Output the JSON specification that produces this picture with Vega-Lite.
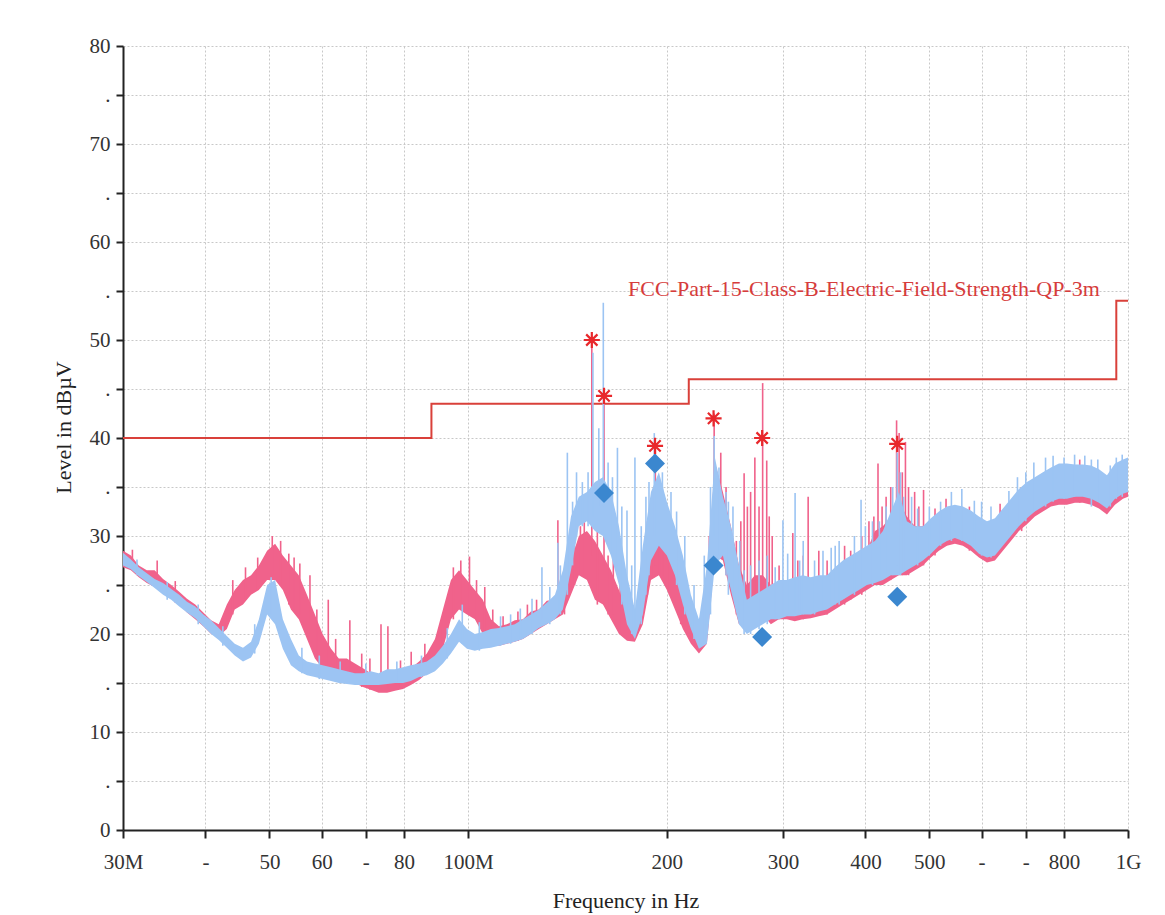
{
  "$schema": "https://vega.github.io/schema/vega-lite/v6.json",
  "autosize": {"type": "none"},
  "padding": {"left": 123, "top": 46, "right": 37, "bottom": 85},
  "width": 1005,
  "height": 784,
  "background": "white",
  "config": {
    "font": "Liberation Serif",
    "view": {"stroke": null},
    "axis": {
      "grid": true,
      "gridColor": "#c8c8c8",
      "gridDash": [2, 2],
      "gridWidth": 1,
      "domainColor": "#222222",
      "domainWidth": 2,
      "tickColor": "#222222",
      "tickWidth": 2,
      "labelFont": "Liberation Serif",
      "labelFontSize": 21,
      "labelColor": "#333333",
      "titleFont": "Liberation Serif",
      "titleFontSize": 22,
      "titleFontWeight": "normal",
      "titleColor": "#222222",
      "labelOverlap": false,
      "labelFlush": false
    }
  },
  "datasets": {
    "limit": [
      {"f": 30, "y": 40},
      {"f": 88, "y": 43.5},
      {"f": 216, "y": 46},
      {"f": 960, "y": 54},
      {"f": 1000, "y": 54}
    ],
    "limitLabel": [
      {"f": 398, "y": 55.2, "t": "FCC-Part-15-Class-B-Electric-Field-Strength-QP-3m"}
    ],
    "trace": [
      {"f": 30.0, "rl": 26.8, "rh": 28.5, "bl": 27.0, "bh": 28.3},
      {"f": 30.84, "rl": 26.5, "rh": 28.0, "bl": 26.6, "bh": 27.6},
      {"f": 31.7, "rl": 25.8, "rh": 27.0, "bl": 25.9, "bh": 26.8},
      {"f": 32.6, "rl": 25.2, "rh": 26.5, "bl": 25.3, "bh": 26.2},
      {"f": 33.5, "rl": 24.8, "rh": 26.5, "bl": 24.7, "bh": 25.6},
      {"f": 34.5, "rl": 24.2, "rh": 25.6, "bl": 24.0, "bh": 25.2},
      {"f": 35.5, "rl": 23.6, "rh": 25.0, "bl": 23.5, "bh": 24.6},
      {"f": 36.5, "rl": 23.0, "rh": 24.3, "bl": 22.8, "bh": 24.0},
      {"f": 37.5, "rl": 22.2, "rh": 23.6, "bl": 22.2, "bh": 23.3},
      {"f": 38.6, "rl": 21.5, "rh": 23.0, "bl": 21.6, "bh": 22.8},
      {"f": 39.7, "rl": 20.8, "rh": 22.2, "bl": 20.8, "bh": 22.0},
      {"f": 40.8, "rl": 20.0, "rh": 21.4, "bl": 20.0, "bh": 21.4},
      {"f": 41.9, "rl": 19.8, "rh": 21.0, "bl": 19.4, "bh": 20.6},
      {"f": 43.1, "rl": 20.5, "rh": 23.0, "bl": 18.6, "bh": 19.8},
      {"f": 44.3, "rl": 22.5, "rh": 24.5, "bl": 17.8, "bh": 19.0},
      {"f": 45.6, "rl": 23.0, "rh": 25.5, "bl": 17.2, "bh": 18.6},
      {"f": 46.9, "rl": 24.0, "rh": 26.0, "bl": 17.6, "bh": 19.2},
      {"f": 48.2, "rl": 24.5, "rh": 27.0, "bl": 19.0, "bh": 21.5},
      {"f": 49.6, "rl": 25.5, "rh": 28.5, "bl": 22.0, "bh": 25.0},
      {"f": 51.0, "rl": 25.5, "rh": 29.2, "bl": 21.0, "bh": 25.5},
      {"f": 52.4, "rl": 24.5, "rh": 28.0, "bl": 18.5, "bh": 21.5},
      {"f": 53.9, "rl": 22.5, "rh": 27.0, "bl": 16.8, "bh": 19.5},
      {"f": 55.4, "rl": 21.5, "rh": 26.0, "bl": 16.2, "bh": 17.8},
      {"f": 57.0, "rl": 19.5, "rh": 24.0, "bl": 15.8, "bh": 17.2},
      {"f": 58.6, "rl": 17.5, "rh": 22.0, "bl": 15.6, "bh": 17.0},
      {"f": 60.2, "rl": 16.5, "rh": 20.0, "bl": 15.4, "bh": 16.8},
      {"f": 62.0, "rl": 16.0, "rh": 18.5, "bl": 15.2, "bh": 16.6},
      {"f": 63.7, "rl": 15.6, "rh": 17.5, "bl": 15.0, "bh": 16.4},
      {"f": 65.5, "rl": 15.3, "rh": 17.5, "bl": 14.9, "bh": 16.2},
      {"f": 67.4, "rl": 15.0, "rh": 17.0, "bl": 14.8, "bh": 16.0},
      {"f": 69.3, "rl": 14.6, "rh": 16.5, "bl": 14.8, "bh": 16.0},
      {"f": 71.2, "rl": 14.3, "rh": 16.0, "bl": 14.8, "bh": 16.2},
      {"f": 73.2, "rl": 14.0, "rh": 15.8, "bl": 14.8, "bh": 16.0},
      {"f": 75.4, "rl": 14.0, "rh": 15.8, "bl": 14.9, "bh": 16.4},
      {"f": 77.5, "rl": 14.2, "rh": 16.0, "bl": 15.0, "bh": 16.4},
      {"f": 79.7, "rl": 14.4, "rh": 16.2, "bl": 15.0, "bh": 16.6},
      {"f": 81.9, "rl": 14.8, "rh": 16.5, "bl": 15.2, "bh": 16.8},
      {"f": 84.3, "rl": 15.3, "rh": 17.2, "bl": 15.6, "bh": 17.0},
      {"f": 86.6, "rl": 16.0, "rh": 18.0, "bl": 15.8, "bh": 17.2},
      {"f": 89.1, "rl": 16.8, "rh": 19.5, "bl": 16.2, "bh": 17.8},
      {"f": 91.6, "rl": 18.5, "rh": 22.5, "bl": 17.0, "bh": 18.8},
      {"f": 94.2, "rl": 21.5, "rh": 25.5, "bl": 18.0, "bh": 20.0},
      {"f": 96.9, "rl": 22.5, "rh": 26.5, "bl": 19.2, "bh": 21.5},
      {"f": 99.6, "rl": 22.0, "rh": 25.5, "bl": 18.5, "bh": 20.5},
      {"f": 102.4, "rl": 21.5, "rh": 24.5, "bl": 18.3, "bh": 20.0},
      {"f": 105.3, "rl": 20.0, "rh": 23.5, "bl": 18.5, "bh": 20.2},
      {"f": 108.3, "rl": 19.0, "rh": 21.5, "bl": 18.6, "bh": 20.5},
      {"f": 111.4, "rl": 18.8, "rh": 20.8, "bl": 18.8, "bh": 20.6},
      {"f": 114.5, "rl": 19.0, "rh": 21.0, "bl": 19.0, "bh": 20.8},
      {"f": 117.7, "rl": 19.2, "rh": 21.4, "bl": 19.2, "bh": 21.0},
      {"f": 121.1, "rl": 19.5, "rh": 21.5, "bl": 19.5, "bh": 21.5},
      {"f": 124.5, "rl": 20.0, "rh": 22.3, "bl": 20.0, "bh": 22.0},
      {"f": 128.0, "rl": 20.5, "rh": 22.5, "bl": 20.6, "bh": 22.5},
      {"f": 131.6, "rl": 21.0, "rh": 23.4, "bl": 21.0, "bh": 23.2},
      {"f": 135.4, "rl": 21.5, "rh": 23.5, "bl": 21.5, "bh": 24.0},
      {"f": 139.2, "rl": 22.0, "rh": 24.5, "bl": 22.5, "bh": 26.5},
      {"f": 143.2, "rl": 24.0, "rh": 27.5, "bl": 26.5, "bh": 32.0},
      {"f": 147.2, "rl": 26.0, "rh": 30.0, "bl": 31.0, "bh": 34.0},
      {"f": 151.4, "rl": 25.5, "rh": 30.5, "bl": 31.5, "bh": 34.5},
      {"f": 155.7, "rl": 23.5, "rh": 29.5, "bl": 30.5, "bh": 35.5},
      {"f": 160.1, "rl": 23.0, "rh": 28.0, "bl": 30.0, "bh": 36.0},
      {"f": 164.6, "rl": 21.5, "rh": 26.5, "bl": 28.0, "bh": 34.5},
      {"f": 169.3, "rl": 20.0, "rh": 24.5, "bl": 25.0, "bh": 31.0},
      {"f": 174.1, "rl": 19.3, "rh": 22.0, "bl": 21.0, "bh": 26.0},
      {"f": 179.0, "rl": 19.2, "rh": 21.5, "bl": 19.5, "bh": 22.5},
      {"f": 184.0, "rl": 21.0, "rh": 27.5, "bl": 22.0, "bh": 29.0},
      {"f": 189.3, "rl": 25.5, "rh": 32.0, "bl": 27.5, "bh": 34.5},
      {"f": 194.6, "rl": 26.0, "rh": 32.5, "bl": 29.0, "bh": 36.5},
      {"f": 200.1, "rl": 24.5, "rh": 30.0, "bl": 28.0, "bh": 33.5},
      {"f": 205.8, "rl": 22.5, "rh": 27.0, "bl": 26.0, "bh": 31.0},
      {"f": 211.6, "rl": 20.5, "rh": 24.5, "bl": 23.0, "bh": 28.0},
      {"f": 217.6, "rl": 19.0, "rh": 22.0, "bl": 20.5, "bh": 24.0},
      {"f": 223.8, "rl": 18.0, "rh": 20.5, "bl": 18.5, "bh": 21.5},
      {"f": 230.1, "rl": 19.0, "rh": 25.0, "bl": 19.0, "bh": 27.0},
      {"f": 236.6, "rl": 28.0, "rh": 37.5, "bl": 27.0, "bh": 38.0},
      {"f": 243.3, "rl": 27.5, "rh": 34.5, "bl": 28.0, "bh": 34.0},
      {"f": 250.2, "rl": 24.0, "rh": 31.0, "bl": 24.5, "bh": 31.0},
      {"f": 257.3, "rl": 21.0, "rh": 27.0, "bl": 21.0, "bh": 27.0},
      {"f": 264.5, "rl": 21.0, "rh": 25.0, "bl": 20.0, "bh": 23.5},
      {"f": 272.0, "rl": 21.5, "rh": 26.0, "bl": 20.5, "bh": 24.0},
      {"f": 279.7, "rl": 22.0, "rh": 26.0, "bl": 21.0, "bh": 24.5},
      {"f": 287.6, "rl": 21.0, "rh": 25.0, "bl": 21.5, "bh": 25.0},
      {"f": 295.7, "rl": 21.5, "rh": 25.0, "bl": 21.5, "bh": 25.5},
      {"f": 304.1, "rl": 21.5, "rh": 25.5, "bl": 21.8, "bh": 25.5},
      {"f": 312.7, "rl": 21.3, "rh": 25.0, "bl": 21.8, "bh": 25.8},
      {"f": 321.5, "rl": 21.5, "rh": 26.0, "bl": 22.0, "bh": 26.0},
      {"f": 330.6, "rl": 21.6, "rh": 25.5, "bl": 22.0, "bh": 25.8},
      {"f": 340.0, "rl": 21.8, "rh": 25.5, "bl": 22.3, "bh": 26.0},
      {"f": 349.8, "rl": 22.0, "rh": 25.8, "bl": 22.5, "bh": 26.0},
      {"f": 359.7, "rl": 22.5, "rh": 26.5, "bl": 23.0, "bh": 26.8},
      {"f": 369.8, "rl": 23.0, "rh": 27.0, "bl": 23.5, "bh": 27.5},
      {"f": 380.3, "rl": 23.5, "rh": 27.5, "bl": 24.0, "bh": 28.0},
      {"f": 391.1, "rl": 24.0, "rh": 28.5, "bl": 24.5, "bh": 28.5},
      {"f": 402.1, "rl": 24.5, "rh": 28.5, "bl": 25.0, "bh": 29.0},
      {"f": 413.5, "rl": 25.0, "rh": 30.5, "bl": 25.2, "bh": 29.5},
      {"f": 425.2, "rl": 25.0, "rh": 31.0, "bl": 25.5, "bh": 30.5},
      {"f": 437.2, "rl": 25.5, "rh": 32.0, "bl": 26.0, "bh": 32.5},
      {"f": 449.6, "rl": 26.0, "rh": 33.5, "bl": 26.0, "bh": 34.5},
      {"f": 462.3, "rl": 26.0, "rh": 32.0, "bl": 26.5, "bh": 31.5},
      {"f": 475.5, "rl": 26.5, "rh": 31.0, "bl": 27.0, "bh": 31.0},
      {"f": 488.9, "rl": 27.0, "rh": 31.0, "bl": 27.5, "bh": 31.0},
      {"f": 502.7, "rl": 27.8, "rh": 31.5, "bl": 28.2, "bh": 31.8},
      {"f": 517.0, "rl": 28.5, "rh": 32.0, "bl": 29.0, "bh": 32.5},
      {"f": 531.6, "rl": 29.0, "rh": 32.5, "bl": 29.5, "bh": 33.0},
      {"f": 546.6, "rl": 29.2, "rh": 32.8, "bl": 29.8, "bh": 33.2},
      {"f": 562.1, "rl": 29.0, "rh": 32.8, "bl": 29.5, "bh": 33.0},
      {"f": 578.0, "rl": 28.5, "rh": 32.5, "bl": 29.0, "bh": 32.6},
      {"f": 594.5, "rl": 27.8, "rh": 31.8, "bl": 28.2, "bh": 32.0},
      {"f": 611.3, "rl": 27.3, "rh": 31.3, "bl": 27.8, "bh": 31.5},
      {"f": 628.6, "rl": 27.5, "rh": 31.5, "bl": 28.0, "bh": 31.8},
      {"f": 646.3, "rl": 28.5, "rh": 32.5, "bl": 29.0, "bh": 32.8},
      {"f": 664.6, "rl": 29.5, "rh": 33.5, "bl": 30.0, "bh": 33.8},
      {"f": 683.4, "rl": 30.5, "rh": 34.5, "bl": 31.0, "bh": 34.8},
      {"f": 702.8, "rl": 31.2, "rh": 35.0, "bl": 31.8, "bh": 35.5},
      {"f": 722.6, "rl": 32.0, "rh": 35.8, "bl": 32.5, "bh": 36.0},
      {"f": 743.1, "rl": 32.5, "rh": 36.2, "bl": 33.0, "bh": 36.5},
      {"f": 764.3, "rl": 33.0, "rh": 36.8, "bl": 33.5, "bh": 37.0},
      {"f": 785.9, "rl": 33.2, "rh": 37.0, "bl": 33.8, "bh": 37.4},
      {"f": 808.1, "rl": 33.2, "rh": 37.0, "bl": 33.8, "bh": 37.4},
      {"f": 831.0, "rl": 33.4, "rh": 37.0, "bl": 34.0, "bh": 37.3},
      {"f": 854.5, "rl": 33.4, "rh": 37.0, "bl": 34.0, "bh": 37.3},
      {"f": 878.9, "rl": 33.2, "rh": 37.0, "bl": 33.8, "bh": 37.2},
      {"f": 903.7, "rl": 32.8, "rh": 36.5, "bl": 33.4, "bh": 36.8},
      {"f": 929.3, "rl": 32.2, "rh": 35.8, "bl": 32.8, "bh": 36.2},
      {"f": 955.6, "rl": 33.2, "rh": 37.0, "bl": 33.8, "bh": 37.4},
      {"f": 982.6, "rl": 33.8, "rh": 37.5, "bl": 34.3, "bh": 37.8},
      {"f": 1000.0, "rl": 34.0, "rh": 37.6, "bl": 34.5, "bh": 38.0}
    ],
    "redSpikes": [
      {"f": 31.0, "y": 26.5, "y2": 28.6},
      {"f": 33.8, "y": 25.0, "y2": 27.5},
      {"f": 36.0, "y": 23.2, "y2": 25.4},
      {"f": 44.0, "y": 22.0, "y2": 25.5},
      {"f": 46.0, "y": 23.5, "y2": 26.8},
      {"f": 48.0, "y": 24.5, "y2": 27.8},
      {"f": 50.5, "y": 26.0, "y2": 30.0},
      {"f": 52.0, "y": 25.0, "y2": 29.5},
      {"f": 53.5, "y": 23.0, "y2": 28.2},
      {"f": 54.5, "y": 22.5, "y2": 27.8},
      {"f": 55.6, "y": 22.0, "y2": 27.2},
      {"f": 57.6, "y": 20.0, "y2": 26.0},
      {"f": 59.0, "y": 17.5, "y2": 22.5},
      {"f": 61.4, "y": 16.5, "y2": 23.5},
      {"f": 63.0, "y": 15.6, "y2": 19.5},
      {"f": 66.2, "y": 15.5, "y2": 21.4},
      {"f": 69.0, "y": 14.6, "y2": 18.0},
      {"f": 71.0, "y": 14.3, "y2": 17.5},
      {"f": 73.8, "y": 14.5, "y2": 21.0},
      {"f": 75.6, "y": 14.5, "y2": 20.8},
      {"f": 79.0, "y": 14.4, "y2": 17.3},
      {"f": 82.0, "y": 15.0, "y2": 18.2},
      {"f": 86.0, "y": 16.0, "y2": 19.0},
      {"f": 91.0, "y": 17.0, "y2": 20.5},
      {"f": 95.0, "y": 21.5, "y2": 26.8},
      {"f": 97.5, "y": 22.5, "y2": 27.5},
      {"f": 100.5, "y": 22.0, "y2": 27.9},
      {"f": 103.0, "y": 21.5, "y2": 25.5},
      {"f": 106.0, "y": 20.0, "y2": 24.8},
      {"f": 109.0, "y": 19.0, "y2": 22.5},
      {"f": 113.0, "y": 19.0, "y2": 21.8},
      {"f": 119.0, "y": 19.3, "y2": 22.3},
      {"f": 123.0, "y": 19.8, "y2": 23.0},
      {"f": 127.0, "y": 20.5, "y2": 23.5},
      {"f": 136.8, "y": 22.0, "y2": 31.6},
      {"f": 140.0, "y": 22.0, "y2": 26.5},
      {"f": 145.0, "y": 25.0, "y2": 29.0},
      {"f": 148.0, "y": 26.0, "y2": 31.0},
      {"f": 150.0, "y": 26.0, "y2": 33.5},
      {"f": 154.0, "y": 28.0, "y2": 50.0},
      {"f": 157.0, "y": 23.0, "y2": 30.5},
      {"f": 160.7, "y": 27.0, "y2": 44.3},
      {"f": 163.0, "y": 22.0, "y2": 28.0},
      {"f": 166.0, "y": 22.0, "y2": 29.0},
      {"f": 170.0, "y": 20.0, "y2": 25.5},
      {"f": 176.0, "y": 19.3, "y2": 23.5},
      {"f": 187.0, "y": 24.0, "y2": 31.5},
      {"f": 190.0, "y": 26.0, "y2": 33.5},
      {"f": 192.2, "y": 27.0, "y2": 39.2},
      {"f": 195.0, "y": 26.0, "y2": 33.8},
      {"f": 197.5, "y": 26.0, "y2": 34.0},
      {"f": 202.0, "y": 24.0, "y2": 31.0},
      {"f": 210.0, "y": 21.0, "y2": 26.0},
      {"f": 232.0, "y": 22.0, "y2": 30.0},
      {"f": 236.0, "y": 30.0, "y2": 42.5},
      {"f": 241.5, "y": 28.0, "y2": 38.5},
      {"f": 246.0, "y": 26.0, "y2": 35.0},
      {"f": 255.0, "y": 22.0, "y2": 29.5},
      {"f": 259.0, "y": 21.5, "y2": 31.5},
      {"f": 262.0, "y": 22.0, "y2": 36.4},
      {"f": 265.0, "y": 21.5, "y2": 33.0},
      {"f": 268.0, "y": 22.0, "y2": 34.5},
      {"f": 272.0, "y": 23.0, "y2": 38.0},
      {"f": 276.0, "y": 22.0, "y2": 33.0},
      {"f": 279.5, "y": 23.0, "y2": 45.6},
      {"f": 283.5, "y": 22.0, "y2": 37.7},
      {"f": 286.0, "y": 21.5, "y2": 32.0},
      {"f": 289.0, "y": 22.0, "y2": 30.0},
      {"f": 296.0, "y": 21.5, "y2": 27.0},
      {"f": 310.5, "y": 22.0, "y2": 30.3},
      {"f": 316.0, "y": 21.5, "y2": 27.5},
      {"f": 322.0, "y": 21.5, "y2": 28.0},
      {"f": 327.6, "y": 22.0, "y2": 34.0},
      {"f": 340.0, "y": 22.0, "y2": 28.5},
      {"f": 350.0, "y": 22.0, "y2": 27.5},
      {"f": 372.0, "y": 23.0, "y2": 29.0},
      {"f": 380.0, "y": 23.5, "y2": 28.5},
      {"f": 395.0, "y": 24.0, "y2": 30.0},
      {"f": 405.0, "y": 25.0, "y2": 31.5},
      {"f": 412.0, "y": 25.0, "y2": 32.0},
      {"f": 418.0, "y": 26.0, "y2": 37.4},
      {"f": 424.0, "y": 26.0, "y2": 33.0},
      {"f": 430.0, "y": 26.0, "y2": 34.0},
      {"f": 437.0, "y": 25.5, "y2": 35.0},
      {"f": 446.0, "y": 27.0, "y2": 41.8},
      {"f": 450.0, "y": 27.0, "y2": 40.5},
      {"f": 455.0, "y": 26.0, "y2": 36.5},
      {"f": 460.0, "y": 27.0, "y2": 39.6},
      {"f": 465.0, "y": 26.0, "y2": 35.0},
      {"f": 475.0, "y": 27.0, "y2": 34.5},
      {"f": 482.0, "y": 27.0, "y2": 33.0},
      {"f": 490.0, "y": 27.0, "y2": 34.7},
      {"f": 510.0, "y": 28.0, "y2": 32.8},
      {"f": 530.0, "y": 29.0, "y2": 33.8},
      {"f": 575.0, "y": 28.5, "y2": 33.0},
      {"f": 640.0, "y": 29.0, "y2": 33.3},
      {"f": 690.0, "y": 30.5, "y2": 35.0},
      {"f": 845.0, "y": 33.4, "y2": 37.8}
    ],
    "blueSpikes": [
      {"f": 31.5, "y": 26.0, "y2": 27.6},
      {"f": 35.0, "y": 23.5, "y2": 25.3},
      {"f": 39.0, "y": 21.0, "y2": 23.0},
      {"f": 42.5, "y": 18.8, "y2": 20.8},
      {"f": 47.5, "y": 18.0, "y2": 21.0},
      {"f": 50.3, "y": 22.0, "y2": 25.8},
      {"f": 56.0, "y": 16.0, "y2": 18.6},
      {"f": 59.5, "y": 15.4, "y2": 17.8},
      {"f": 64.0, "y": 15.0, "y2": 17.2},
      {"f": 70.0, "y": 14.8, "y2": 17.0},
      {"f": 78.0, "y": 15.0, "y2": 17.2},
      {"f": 85.0, "y": 15.6, "y2": 17.8},
      {"f": 93.0, "y": 17.5, "y2": 20.6},
      {"f": 98.0, "y": 19.0, "y2": 23.0},
      {"f": 104.0, "y": 18.3, "y2": 21.2},
      {"f": 112.0, "y": 18.8, "y2": 21.8},
      {"f": 116.0, "y": 19.0, "y2": 22.0},
      {"f": 120.0, "y": 19.5, "y2": 22.6},
      {"f": 125.0, "y": 20.0, "y2": 23.6},
      {"f": 129.4, "y": 21.5, "y2": 26.8},
      {"f": 133.0, "y": 21.0, "y2": 24.8},
      {"f": 136.8, "y": 22.0, "y2": 29.3},
      {"f": 138.0, "y": 22.0, "y2": 27.0},
      {"f": 141.4, "y": 24.0, "y2": 38.5},
      {"f": 144.0, "y": 27.0, "y2": 33.5},
      {"f": 146.0, "y": 30.0, "y2": 36.5},
      {"f": 149.0, "y": 31.0, "y2": 35.5},
      {"f": 152.0, "y": 31.0, "y2": 36.5},
      {"f": 154.6, "y": 32.0, "y2": 48.7},
      {"f": 157.8, "y": 33.0, "y2": 41.0},
      {"f": 160.3, "y": 33.0, "y2": 53.8},
      {"f": 163.0, "y": 31.0, "y2": 37.5},
      {"f": 165.5, "y": 28.0, "y2": 36.0},
      {"f": 168.4, "y": 27.0, "y2": 39.0},
      {"f": 171.0, "y": 23.0, "y2": 33.0},
      {"f": 174.1, "y": 22.0, "y2": 32.6},
      {"f": 177.0, "y": 20.0, "y2": 27.0},
      {"f": 179.0, "y": 20.0, "y2": 38.0},
      {"f": 183.0, "y": 21.0, "y2": 31.0},
      {"f": 186.0, "y": 24.0, "y2": 34.0},
      {"f": 188.0, "y": 26.0, "y2": 35.5},
      {"f": 191.5, "y": 30.0, "y2": 40.5},
      {"f": 197.0, "y": 30.0, "y2": 36.5},
      {"f": 203.0, "y": 28.0, "y2": 34.5},
      {"f": 207.0, "y": 25.0, "y2": 32.5},
      {"f": 213.0, "y": 22.0, "y2": 30.0},
      {"f": 220.0, "y": 19.5, "y2": 25.0},
      {"f": 228.0, "y": 19.0, "y2": 28.0},
      {"f": 233.0, "y": 22.0, "y2": 35.0},
      {"f": 236.0, "y": 30.0, "y2": 40.2},
      {"f": 240.0, "y": 28.0, "y2": 37.0},
      {"f": 246.0, "y": 26.0, "y2": 34.5},
      {"f": 248.0, "y": 24.0, "y2": 33.5},
      {"f": 252.0, "y": 24.0, "y2": 33.0},
      {"f": 258.0, "y": 21.0, "y2": 29.5},
      {"f": 262.0, "y": 20.0, "y2": 26.5},
      {"f": 268.0, "y": 20.0, "y2": 27.0},
      {"f": 276.0, "y": 20.5, "y2": 27.5},
      {"f": 284.0, "y": 21.0, "y2": 28.0},
      {"f": 292.0, "y": 21.5, "y2": 26.8},
      {"f": 300.0, "y": 22.0, "y2": 31.6},
      {"f": 305.0, "y": 22.0, "y2": 28.2},
      {"f": 313.0, "y": 22.0, "y2": 34.4},
      {"f": 318.0, "y": 22.0, "y2": 27.5},
      {"f": 322.0, "y": 22.0, "y2": 29.5},
      {"f": 335.0, "y": 22.0, "y2": 27.5},
      {"f": 345.0, "y": 22.5, "y2": 28.5},
      {"f": 355.0, "y": 23.0, "y2": 28.8},
      {"f": 360.0, "y": 23.0, "y2": 29.0},
      {"f": 365.0, "y": 23.0, "y2": 29.5},
      {"f": 385.0, "y": 24.0, "y2": 30.0},
      {"f": 394.0, "y": 25.0, "y2": 33.7},
      {"f": 400.0, "y": 25.0, "y2": 31.0},
      {"f": 410.0, "y": 25.0, "y2": 31.5},
      {"f": 420.0, "y": 25.5, "y2": 31.5},
      {"f": 430.0, "y": 26.0, "y2": 33.0},
      {"f": 440.0, "y": 26.0, "y2": 35.0},
      {"f": 447.0, "y": 27.0, "y2": 38.5},
      {"f": 452.0, "y": 26.0, "y2": 36.5},
      {"f": 457.0, "y": 26.5, "y2": 34.0},
      {"f": 470.0, "y": 27.0, "y2": 34.0},
      {"f": 480.0, "y": 27.0, "y2": 32.8},
      {"f": 500.0, "y": 28.0, "y2": 33.0},
      {"f": 520.0, "y": 29.0, "y2": 33.5},
      {"f": 540.0, "y": 29.5, "y2": 34.5},
      {"f": 560.0, "y": 29.5, "y2": 34.8},
      {"f": 585.0, "y": 29.0, "y2": 33.6},
      {"f": 600.0, "y": 28.0, "y2": 33.5},
      {"f": 620.0, "y": 27.8, "y2": 33.0},
      {"f": 660.0, "y": 30.0, "y2": 34.6},
      {"f": 680.0, "y": 31.0, "y2": 36.0},
      {"f": 700.0, "y": 31.5, "y2": 36.5},
      {"f": 720.0, "y": 32.5, "y2": 37.5},
      {"f": 750.0, "y": 33.0, "y2": 38.0},
      {"f": 770.0, "y": 33.5, "y2": 38.2},
      {"f": 800.0, "y": 33.8, "y2": 38.0},
      {"f": 830.0, "y": 34.0, "y2": 38.3},
      {"f": 860.0, "y": 34.0, "y2": 38.2},
      {"f": 880.0, "y": 33.0, "y2": 37.8},
      {"f": 900.0, "y": 33.5, "y2": 37.8},
      {"f": 940.0, "y": 33.0, "y2": 37.2},
      {"f": 960.0, "y": 33.8, "y2": 38.0},
      {"f": 980.0, "y": 34.0, "y2": 38.3}
    ],
    "peaks": [
      {"f": 154.0, "y": 50.0},
      {"f": 160.7, "y": 44.3},
      {"f": 192.0, "y": 39.2},
      {"f": 235.5, "y": 42.0},
      {"f": 279.0, "y": 40.0},
      {"f": 447.0, "y": 39.4}
    ],
    "qp": [
      {"f": 160.7, "y": 34.4},
      {"f": 192.0, "y": 37.4},
      {"f": 235.5, "y": 27.0},
      {"f": 279.0, "y": 19.7},
      {"f": 447.0, "y": 23.8}
    ]
  },
  "layer": [
    {
      "data": {"name": "limit"},
      "mark": {"type": "line", "interpolate": "step-after", "color": "#d9403a", "strokeWidth": 2},
      "encoding": {
        "x": {
          "field": "f", "type": "quantitative",
          "scale": {"type": "log", "domain": [30, 1000], "nice": false},
          "axis": {
            "values": [30, 40, 50, 60, 70, 80, 100, 200, 300, 400, 500, 600, 700, 800, 1000],
            "labelExpr": "datum.value == 30 ? '30M' : datum.value == 100 ? '100M' : datum.value == 1000 ? '1G' : (datum.value == 40 || datum.value == 70 || datum.value == 600 || datum.value == 700) ? '-' : '' + datum.value",
            "tickSize": 8,
            "labelPadding": 13,
            "title": "Frequency in Hz",
            "titlePadding": 18
          }
        },
        "y": {
          "field": "y", "type": "quantitative",
          "scale": {"domain": [0, 80], "nice": false, "zero": true},
          "axis": {
            "values": [0, 5, 10, 15, 20, 25, 30, 35, 40, 45, 50, 55, 60, 65, 70, 75, 80],
            "labelExpr": "datum.value % 10 == 0 ? '' + datum.value : '.'",
            "tickSize": 7,
            "labelPadding": 6,
            "title": "Level in dBµV",
            "titlePadding": 14,
            "titleY": 381
          }
        }
      }
    },
    {
      "data": {"name": "trace"},
      "mark": {"type": "area", "color": "#f0628b", "opacity": 1},
      "encoding": {
        "x": {"field": "f", "type": "quantitative"},
        "y": {"field": "rl", "type": "quantitative"},
        "y2": {"field": "rh"}
      }
    },
    {
      "data": {"name": "redSpikes"},
      "mark": {"type": "rule", "color": "#f0628b", "strokeWidth": 1.6},
      "encoding": {
        "x": {"field": "f", "type": "quantitative"},
        "y": {"field": "y", "type": "quantitative"},
        "y2": {"field": "y2"}
      }
    },
    {
      "data": {"name": "trace"},
      "mark": {"type": "area", "color": "#9cc4f3", "opacity": 1},
      "encoding": {
        "x": {"field": "f", "type": "quantitative"},
        "y": {"field": "bl", "type": "quantitative"},
        "y2": {"field": "bh"}
      }
    },
    {
      "data": {"name": "blueSpikes"},
      "mark": {"type": "rule", "color": "#9cc4f3", "strokeWidth": 1.6},
      "encoding": {
        "x": {"field": "f", "type": "quantitative"},
        "y": {"field": "y", "type": "quantitative"},
        "y2": {"field": "y2"}
      }
    },
    {
      "data": {"name": "limitLabel"},
      "mark": {"type": "text", "font": "Liberation Serif", "fontSize": 22, "color": "#d63c3c", "align": "center", "baseline": "middle"},
      "encoding": {
        "x": {"field": "f", "type": "quantitative"},
        "y": {"field": "y", "type": "quantitative"},
        "text": {"field": "t"}
      }
    },
    {
      "data": {"name": "qp"},
      "mark": {"type": "point", "shape": "diamond", "filled": true, "color": "#3b87cf", "opacity": 1, "size": 400},
      "encoding": {
        "x": {"field": "f", "type": "quantitative"},
        "y": {"field": "y", "type": "quantitative"}
      }
    },
    {
      "data": {"name": "peaks"},
      "mark": {"type": "point", "shape": "M -1 0 L 1 0 M 0 -1 L 0 1 M -0.7 -0.7 L 0.7 0.7 M -0.7 0.7 L 0.7 -0.7", "filled": false, "color": "#e8282c", "opacity": 1, "strokeWidth": 2.2, "size": 260},
      "encoding": {
        "x": {"field": "f", "type": "quantitative"},
        "y": {"field": "y", "type": "quantitative"}
      }
    }
  ]
}
